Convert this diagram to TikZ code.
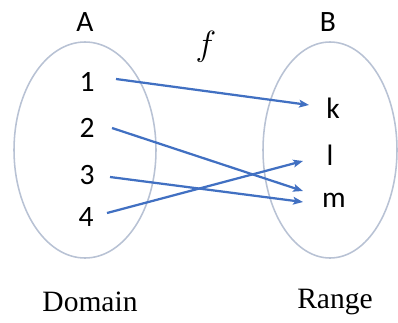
\documentclass[tikz,border=0pt]{standalone}
\usepackage{fontspec}
\usetikzlibrary{arrows.meta}
\setmainfont{Liberation Serif}
\newfontfamily\calib{Carlito}
\definecolor{setline}{HTML}{B8C2D4}
\definecolor{maparrow}{HTML}{4170C2}
\begin{document}
\begin{tikzpicture}[>={Stealth[length=7pt,width=5.5pt,inset=1.5pt]},x=0.025cm,y=-0.025cm,
    elem/.style={font=\calib\fontsize{21}{24}\selectfont},
    lbl/.style={font=\fontsize{21}{24}\selectfont},
    map/.style={->,draw=maparrow,line width=1.6pt}]
    \useasboundingbox (0,0) rectangle (398,322);
    \draw[setline,line width=1.1pt] (85,150) ellipse [x radius=71,y radius=108];
    \draw[setline,line width=1.1pt] (330,150) ellipse [x radius=67,y radius=108];
    \node[elem] (A) at (85,22) {A};
    \node[elem] (B) at (328,22) {B};
    \node[lbl,font=\fontsize{24}{26}\selectfont] (f) at (206,47) {$f$};
    \node[elem] (n1) at (87,82) {1};
    \node[elem] (n2) at (87,128) {2};
    \node[elem] (n3) at (87,175) {3};
    \node[elem] (n4) at (86,217) {4};
    \node[elem] (k) at (333,108) {k};
    \node[elem] (l) at (330,155) {l};
    \node[elem] (m) at (334,200) {m};
    % ends of the arrows
    \coordinate (s1) at (116,79);
    \coordinate (s2) at (112,128);
    \coordinate (s3) at (110,177);
    \coordinate (s4) at (107,213);
    \coordinate (e1) at (309,105);
    \coordinate (e2) at (303,191);
    \coordinate (e3) at (303,202);
    \coordinate (e4) at (303,161);
    \draw[map] (s1) -- (e1);
    \draw[map] (s2) -- (e2);
    \draw[map] (s3) -- (e3);
    \draw[map] (s4) -- (e4);
    \node[lbl] (dom) at (90,302) {Domain};
    \node[lbl] (ran) at (335,302) {Range};
\end{tikzpicture}
\end{document}
